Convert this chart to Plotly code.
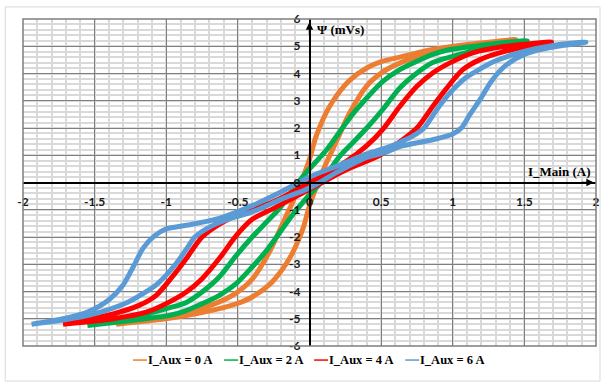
"""Psi vs I_Main hysteresis loops for four auxiliary currents (Excel look)."""

import plotly.graph_objects as go

# ---------------------------------------------------------------------------
# Data: each loop = descending branch + ascending branch
# ---------------------------------------------------------------------------
# I_Aux = 0 A
AUX0_DOWN_X = [1.44, 1.25, 1.09, 0.86, 0.63, 0.51, 0.40, 0.28, 0.22, 0.165, 0.12, 0.08, 0.04, 0.0,
               -0.06, -0.12, -0.165, -0.23, -0.28, -0.40, -0.51, -0.63, -0.86, -1.10, -1.35]
AUX0_DOWN_Y = [5.25, 5.15, 5.06, 4.88, 4.60, 4.45, 4.20, 3.75, 3.40, 3.00, 2.60, 2.15, 1.60, 0.85,
               0.0, -0.75, -1.25, -2.00, -2.55, -3.55, -4.05, -4.38, -4.78, -5.02, -5.20]
AUX0_UP_X = [-1.35, -1.09, -0.86, -0.63, -0.51, -0.40, -0.28, -0.22, -0.165, -0.12, -0.08, -0.04,
             0.0, 0.06, 0.12, 0.165, 0.23, 0.28, 0.40, 0.51, 0.63, 0.86, 1.09, 1.44]
AUX0_UP_Y = [-5.20, -5.06, -4.88, -4.63, -4.45, -4.20, -3.75, -3.40, -3.00, -2.60, -2.15, -1.60,
             -0.85, 0.0, 0.75, 1.25, 2.00, 2.55, 3.55, 4.05, 4.38, 4.78, 5.00, 5.25]

# I_Aux = 2 A
AUX2_DOWN_X = [1.52, 1.33, 1.09, 0.98, 0.86, 0.75, 0.63, 0.51, 0.40, 0.30, 0.23, 0.12, 0.0,
               -0.08, -0.14, -0.21, -0.30, -0.40, -0.51, -0.63, -0.75, -0.86, -0.98, -1.20, -1.55]
AUX2_DOWN_Y = [5.20, 5.12, 4.96, 4.88, 4.70, 4.45, 4.14, 3.70, 3.10, 2.50, 2.00, 1.20, 0.50,
               0.0, -0.45, -0.96, -1.45, -2.00, -2.67, -3.47, -4.02, -4.40, -4.60, -4.90, -5.25]
AUX2_UP_X = [-1.55, -1.33, -1.09, -0.98, -0.86, -0.75, -0.63, -0.51, -0.40, -0.30, -0.23, -0.12,
             0.0, 0.08, 0.14, 0.21, 0.30, 0.40, 0.51, 0.63, 0.75, 0.86, 0.98, 1.20, 1.52]
AUX2_UP_Y = [-5.25, -5.12, -4.96, -4.88, -4.70, -4.45, -4.14, -3.70, -3.10, -2.50, -2.00, -1.20,
             -0.45, 0.0, 0.45, 0.96, 1.45, 2.00, 2.67, 3.47, 4.02, 4.40, 4.60, 4.90, 5.20]

# I_Aux = 4 A
AUX4_DOWN_X = [1.69, 1.37, 1.14, 0.98, 0.86, 0.75, 0.63, 0.51, 0.40, 0.25, 0.0,
               -0.25, -0.49, -0.62, -0.75, -0.86, -0.95, -1.07, -1.19, -1.37, -1.72]
AUX4_DOWN_Y = [5.15, 5.00, 4.76, 4.39, 4.02, 3.53, 2.79, 1.94, 1.35, 0.75, 0.0,
               -0.70, -1.15, -1.50, -2.00, -2.79, -3.41, -4.14, -4.51, -4.82, -5.20]
AUX4_UP_X = [-1.72, -1.37, -1.14, -0.98, -0.86, -0.75, -0.63, -0.51, -0.40, -0.25, 0.0,
             0.25, 0.49, 0.62, 0.75, 0.86, 0.95, 1.07, 1.19, 1.37, 1.69]
AUX4_UP_Y = [-5.20, -5.00, -4.76, -4.39, -4.02, -3.53, -2.79, -1.94, -1.35, -0.95, -0.25,
             0.45, 1.00, 1.45, 2.00, 2.79, 3.41, 4.14, 4.51, 4.82, 5.15]

# I_Aux = 6 A
AUX6_DOWN_X = [1.93, 1.72, 1.49, 1.28, 1.17, 1.08, 1.00, 0.92, 0.86, 0.80, 0.72, 0.62, 0.54, 0.40,
               0.20, 0.0, -0.20, -0.40, -0.63, -0.86, -1.00, -1.08, -1.16, -1.23, -1.30, -1.40,
               -1.55, -1.72, -1.94]
AUX6_DOWN_Y = [5.15, 5.05, 4.80, 4.42, 4.10, 3.80, 3.40, 2.90, 2.45, 2.00, 1.70, 1.45, 1.28, 1.05,
               0.62, 0.20, -0.35, -0.85, -1.32, -1.57, -1.70, -1.95, -2.40, -3.09, -3.75, -4.30,
               -4.75, -5.00, -5.20]
AUX6_UP_X = [-1.94, -1.72, -1.49, -1.28, -1.17, -1.08, -1.00, -0.92, -0.86, -0.80, -0.72, -0.62,
             -0.54, -0.40, -0.20, 0.0, 0.20, 0.40, 0.54, 0.63, 0.86, 1.00, 1.06, 1.12, 1.19,
             1.27, 1.37, 1.50, 1.68, 1.93]
AUX6_UP_Y = [-5.20, -5.05, -4.80, -4.42, -4.10, -3.80, -3.40, -2.90, -2.45, -2.00, -1.70, -1.45,
             -1.30, -1.08, -0.62, -0.20, 0.40, 0.92, 1.12, 1.32, 1.57, 1.78, 2.00, 2.50, 3.04,
             3.72, 4.30, 4.70, 4.95, 5.15]

SERIES_NAMES = ['I_Aux = 0 A', 'I_Aux = 2 A', 'I_Aux = 4 A', 'I_Aux = 6 A']
SERIES_COLORS = ['#ED7D31', '#00B050', '#FF0000', '#5B9BD5']

X_TICKS = [-2, -1.5, -1, -0.5, 0, 0.5, 1, 1.5, 2]
X_TICK_TEXT = ['-2', '-1.5', '-1', '-0.5', '0', '0.5', '1', '1.5', '2']
Y_TICKS = [-6, -5, -4, -3, -2, -1, 0, 1, 2, 3, 4, 5, 6]
Y_TICK_TEXT = ['-6', '-5', '-4', '-3', '-2', '-1', '0', '1', '2', '3', '4', '5', '6']

LOOPS = [
    (AUX0_DOWN_X + AUX0_UP_X, AUX0_DOWN_Y + AUX0_UP_Y),
    (AUX2_DOWN_X + AUX2_UP_X, AUX2_DOWN_Y + AUX2_UP_Y),
    (AUX4_DOWN_X + AUX4_UP_X, AUX4_DOWN_Y + AUX4_UP_Y),
    (AUX6_DOWN_X + AUX6_UP_X, AUX6_DOWN_Y + AUX6_UP_Y),
]

TICK_FONT = dict(family='Lato, Arial', size=12, color='#1a1a1a', weight='bold')
SERIF = 'Liberation Serif, Times New Roman, serif'

fig = go.Figure()
for (xs, ys), name, color in zip(LOOPS, SERIES_NAMES, SERIES_COLORS):
    fig.add_trace(go.Scatter(
        x=xs, y=ys, name=name, mode='lines',
        line=dict(color=color, width=5, shape='spline', smoothing=0.8),
        showlegend=False, hoverinfo='skip',
    ))

fig.update_xaxes(
    range=[-2, 2], tickmode='array', tickvals=X_TICKS, ticktext=X_TICK_TEXT,
    showgrid=True, gridcolor='#7f7f7f', gridwidth=1.3,
    minor=dict(dtick=0.1, tick0=0, showgrid=True, gridcolor='#d9d9d9', gridwidth=1.5),
    zeroline=False, showline=True, linecolor='black', linewidth=2,
    anchor='free', position=0.5, ticks='', ticklabelstandoff=8,
    tickfont=TICK_FONT, automargin=False,
)
fig.update_yaxes(
    range=[-6, 6], tickmode='array', tickvals=Y_TICKS, ticktext=Y_TICK_TEXT,
    showgrid=True, gridcolor='#7f7f7f', gridwidth=1.3,
    minor=dict(dtick=0.2, tick0=0, showgrid=True, gridcolor='#d9d9d9', gridwidth=1.6),
    zeroline=False, showline=True, linecolor='black', linewidth=1.5,
    anchor='free', position=0.5, ticks='', ticklabelstandoff=6,
    tickfont=TICK_FONT, automargin=False,
)

# frame of the plot area and light outer chart border
shapes = [
    dict(type='rect', xref='paper', yref='paper', x0=0, x1=1, y0=0, y1=1,
         line=dict(color='#7f7f7f', width=1.5)),
    dict(type='rect', xref='paper', yref='paper', x0=-0.031, x1=1.007, y0=-0.107, y1=1.037,
         line=dict(color='#d9d9d9', width=1)),
]

annotations = [
    # axis arrows
    dict(x=1.985, y=0, ax=-14, ay=0, xref='x', yref='y', text='', showarrow=True,
         arrowhead=2, arrowsize=1, arrowwidth=1.5, arrowcolor='black'),
    dict(x=0, y=5.88, ax=0, ay=14, xref='x', yref='y', text='', showarrow=True,
         arrowhead=2, arrowsize=1, arrowwidth=1.5, arrowcolor='black'),
    # axis titles
    dict(x=0.035, y=5.6, xref='x', yref='y', xanchor='left', yanchor='middle',
         text='<b>Ψ (mVs)</b>', showarrow=False, font=dict(family=SERIF, size=13, color='black')),
    dict(x=1.975, y=0.4, xref='x', yref='y', xanchor='right', yanchor='middle',
         text='<b>I_Main (A)</b>', showarrow=False, font=dict(family=SERIF, size=13, color='black')),
]

# legend drawn as a row of coloured dashes + labels below the plot
PLOT_W = 604 - 23 - 8
legend_x = [0.192, 0.351, 0.508, 0.667]
for lx, name, color in zip(legend_x, SERIES_NAMES, SERIES_COLORS):
    shapes.append(dict(
        type='line', xref='paper', yref='paper', x0=lx, x1=lx + 14 / PLOT_W,
        y0=-0.043, y1=-0.043, line=dict(color=color, width=1.5),
    ))
    annotations.append(dict(
        x=lx + 14 / PLOT_W, y=-0.043, xref='paper', yref='paper', xanchor='left',
        yanchor='middle', text=f'<b>{name}</b>', showarrow=False, borderpad=0,
        font=dict(family=SERIF, size=12.5, color='black'),
    ))

fig.update_layout(
    width=604, height=383, autosize=False,
    margin=dict(l=23, r=8, t=19, b=37),
    paper_bgcolor='white', plot_bgcolor='white',
    shapes=shapes, annotations=annotations,
    showlegend=False,
)

# the page body has a default 8px margin; drop it so the chart sits at (0, 0)
fig.write_html(
    "out.html",
    config={'displayModeBar': False},
    post_script="document.body.style.margin='0';",
)
